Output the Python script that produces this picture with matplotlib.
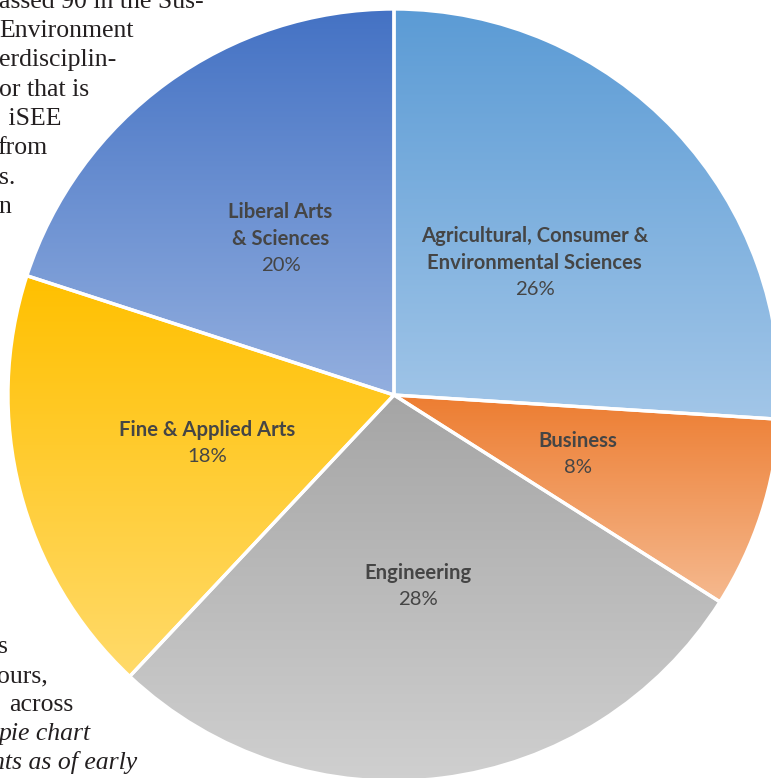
import numpy as np
import matplotlib.pyplot as plt
from matplotlib.colors import to_rgb

# slices, clockwise from 12 o'clock
colleges = ['Agricultural, Consumer &\nEnvironmental Sciences', 'Business', 'Engineering',
            'Fine & Applied Arts', 'Liberal Arts\n& Sciences']
shares = [26, 8, 28, 18, 20]
top_colors = ['#5b9bd5', '#ed7d31', '#a5a5a5', '#ffc000', '#4472c4']
bottom_colors = ['#a2c6e8', '#f5b98f', '#d0d0d0', '#ffda6a', '#93afdf']

# body text of the page around the chart (only the visible ends)
text_top = ['assed 90 in the Sus-', 'Environment', 'erdisciplin-', 'or that is',
            ' iSEE', 'from', 's.', 'n']
text_bottom = ['s', 'ours,', 'across', 'pie chart', 'nts as of early']

W, H = 771, 778
fig = plt.figure(figsize=(W / 100, H / 100), dpi=100)
ax = fig.add_axes([0, 0, 1, 1])

cx, cy, R = 394, H - 395, 386

# page text behind the pie
xs_top = [-1, -1, -1, -1, 2, -3, -1, -2]
for i, s in enumerate(text_top):
    ax.text(xs_top[i], H - (7.5 + 29.35 * i), s, fontsize=18.5, family='Liberation Serif',
            color='#231f20', va='baseline', ha='left', zorder=0)
# right ends of the lower lines
xe_bot = [8, 48, 73, 91, 137]
for i, s in enumerate(text_bottom):
    ax.text(xe_bot[i], H - (653 + 29 * i), s, fontsize=18.5, family='Liberation Serif',
            style='italic' if i >= 3 else 'normal',
            color='#231f20', va='baseline', ha='right', zorder=0)

wedges, _ = ax.pie(shares, startangle=90, counterclock=False, center=(cx, cy), radius=R,
                   wedgeprops=dict(edgecolor='white', linewidth=2.4))

for w, c1, c2 in zip(wedges, top_colors, bottom_colors):
    v = w.get_path().vertices
    ymin, ymax = v[:, 1].min(), v[:, 1].max()
    xmin, xmax = v[:, 0].min(), v[:, 0].max()
    t = np.linspace(0, 1, 256)[:, None]
    grad = (1 - t) * np.array(to_rgb(c2)) + t * np.array(to_rgb(c1))
    im = ax.imshow(grad[:, None, :], extent=[xmin, xmax, ymin, ymax], origin='lower',
                   aspect='auto', zorder=1, interpolation='bilinear')
    im.set_clip_path(w)
    w.set_facecolor('none')
    w.set_zorder(2)

ls = 26.5
for w, name, v in zip(wedges, colleges, shares):
    mid = np.deg2rad((w.theta1 + w.theta2) / 2)
    ax_x = cx + 0.5 * R * np.cos(mid)
    ax_y = cy + 0.5 * R * np.sin(mid)
    lines = name.split('\n')
    n = len(lines) + 1
    top = ax_y + (n - 1) / 2 * ls
    for i, ln in enumerate(lines):
        ax.text(ax_x, top - i * ls, ln, ha='center', va='center', fontsize=14.6,
                family='Lato', fontweight='bold', color='#454545', zorder=3)
    ax.text(ax_x, top - len(lines) * ls, f'{v}%', ha='center', va='center', fontsize=14.6,
            family='Lato', color='#454545', zorder=3)

ax.set_xlim(0, W)
ax.set_ylim(0, H)
ax.set_aspect('equal')
ax.axis('off')
fig.savefig('out.png', dpi=100)
